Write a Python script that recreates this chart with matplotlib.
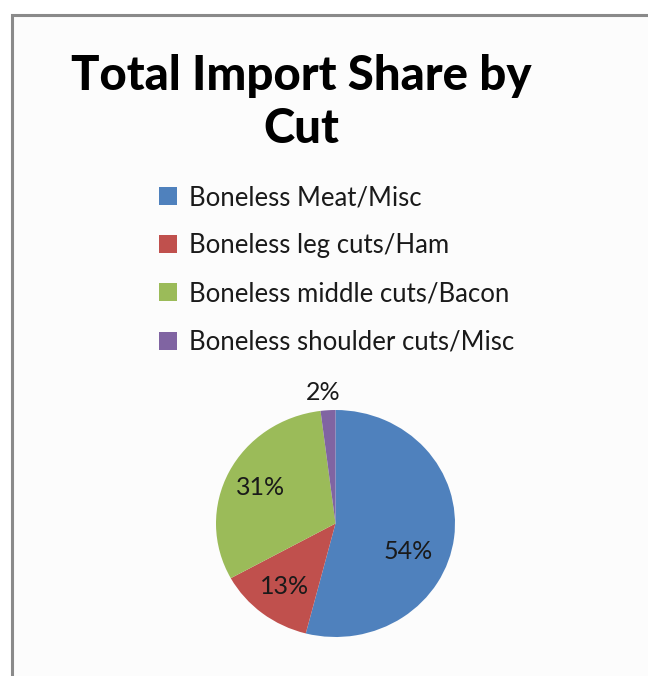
import numpy as np
import matplotlib
matplotlib.use('Agg')
import matplotlib.pyplot as plt
from matplotlib.patches import Rectangle, Patch

# Import share by cut
cuts = ['Boneless Meat/Misc', 'Boneless leg cuts/Ham',
        'Boneless middle cuts/Bacon', 'Boneless shoulder cuts/Misc']
shares = [54, 13, 31, 2]
colors = ['#4F81BD', '#C0504D', '#9BBB59', '#8064A2']

plt.rcParams['font.family'] = ['Lato', 'DejaVu Sans']

W, H = 648, 676
fig = plt.figure(figsize=(W / 100, H / 100), dpi=100, facecolor='white')

# chart area frame (open at the bottom and right)
fig.patches.append(Rectangle((12 / W, -0.05), 1, 1.05 - 15 / H, transform=fig.transFigure,
                             facecolor='#FCFCFC', edgecolor='#8A8A8A', linewidth=2.2,
                             zorder=-5))

fig.text(301 / W, 1 - 76 / H, 'Total Import Share by', ha='center', va='center',
         fontsize=34, fontweight='black', color='black')
fig.text(301 / W, 1 - 129 / H, 'Cut', ha='center', va='center',
         fontsize=34, fontweight='black', color='black')

# pie (slightly wider than tall, as in the exported chart)
cx, cy, rx, ry = 335.5, 523.5, 119.5, 113.5
ax = fig.add_axes([(cx - rx) / W, (H - cy - ry) / H, 2 * rx / W, 2 * ry / H], zorder=2)
wedges, texts, autotexts = ax.pie(shares, colors=colors, startangle=90, counterclock=False,
                                  autopct='%d%%', pctdistance=0.7,
                                  textprops={'fontsize': 18, 'color': '#1a1a1a'})
# label positions
a = np.deg2rad(-20)
autotexts[0].set_position((0.65 * np.cos(a), 0.65 * np.sin(a) - 0.02))
autotexts[3].set_position((-0.1, 1.15))
ax.set_xlim(-1, 1)
ax.set_ylim(-1, 1)
ax.set_aspect('auto')
ax.axis('off')

handles = [Patch(facecolor=c, edgecolor='none') for c in colors]
fig.legend(handles, cuts, loc='upper left', bbox_to_anchor=(136 / W, 1 - 162 / H),
           frameon=False, fontsize=18.5, handlelength=0.7, handleheight=0.7,
           handletextpad=0.45, labelspacing=0.9, labelcolor='#1a1a1a')

fig.savefig('out.png', dpi=100, facecolor='white')
